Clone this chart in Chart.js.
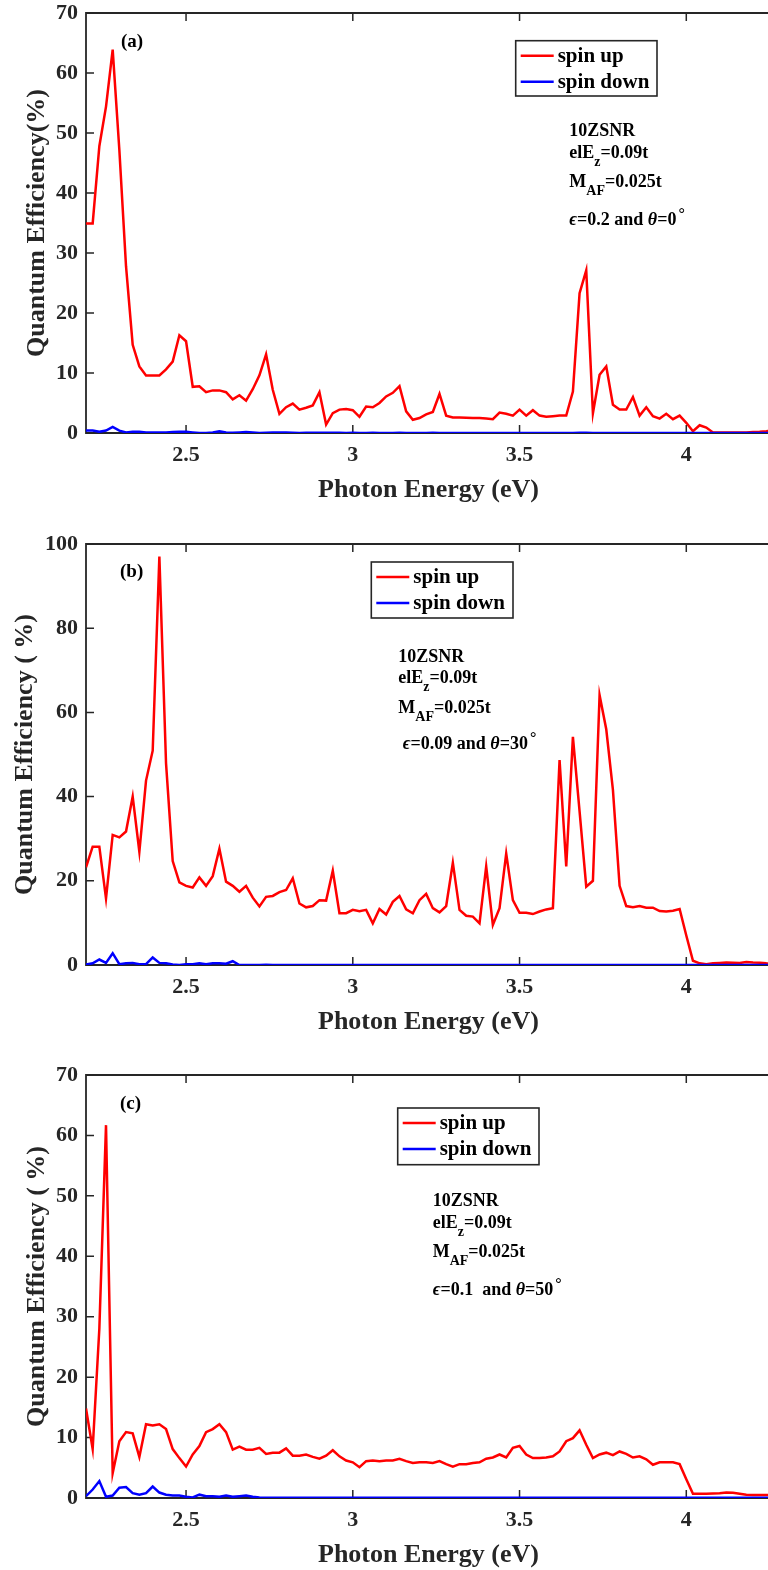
<!DOCTYPE html>
<html>
<head>
<meta charset="utf-8">
<script src="https://cdn.jsdelivr.net/npm/chart.js@4/dist/chart.umd.min.js"></script>
<style>
  html, body { margin: 0; padding: 0; background: #fff; overflow: hidden; }
  canvas { position: absolute; left: 0; }
</style>
</head>
<body>
<canvas id="panelA" width="771" height="525" style="top:0px"></canvas>
<canvas id="panelB" width="771" height="525" style="top:525px"></canvas>
<canvas id="panelC" width="771" height="530" style="top:1050px"></canvas>
<script>
// photon energy grid (eV)
const energy = [
  2.20, 2.22, 2.24, 2.26, 2.28, 2.30, 2.32, 2.34, 2.36, 2.38,
  2.40, 2.42, 2.44, 2.46, 2.48, 2.50, 2.52, 2.54, 2.56, 2.58,
  2.60, 2.62, 2.64, 2.66, 2.68, 2.70, 2.72, 2.74, 2.76, 2.78,
  2.80, 2.82, 2.84, 2.86, 2.88, 2.90, 2.92, 2.94, 2.96, 2.98,
  3.00, 3.02, 3.04, 3.06, 3.08, 3.10, 3.12, 3.14, 3.16, 3.18,
  3.20, 3.22, 3.24, 3.26, 3.28, 3.30, 3.32, 3.34, 3.36, 3.38,
  3.40, 3.42, 3.44, 3.46, 3.48, 3.50, 3.52, 3.54, 3.56, 3.58,
  3.60, 3.62, 3.64, 3.66, 3.68, 3.70, 3.72, 3.74, 3.76, 3.78,
  3.80, 3.82, 3.84, 3.86, 3.88, 3.90, 3.92, 3.94, 3.96, 3.98,
  4.00, 4.02, 4.04, 4.06, 4.08, 4.10, 4.12, 4.14, 4.16, 4.18,
  4.20, 4.22, 4.24, 4.26
];

// (a) eps=0.2, theta=0
const upA = [
  34.9, 34.9, 47.8, 54.4, 63.9, 47.2, 27.8, 14.7, 11.1, 9.6,
  9.6, 9.6, 10.6, 11.9, 16.3, 15.3, 7.7, 7.8, 6.8, 7.1,
  7.1, 6.8, 5.6, 6.3, 5.4, 7.3, 9.6, 13.1, 7.2, 3.2,
  4.3, 4.9, 3.9, 4.2, 4.6, 6.8, 1.4, 3.3, 3.9, 4.0,
  3.8, 2.7, 4.4, 4.3, 5.0, 6.1, 6.7, 7.8, 3.6, 2.2,
  2.5, 3.1, 3.5, 6.5, 2.9, 2.6, 2.6, 2.55, 2.5, 2.5,
  2.4, 2.3, 3.4, 3.2, 2.9, 3.9, 2.9, 3.8, 2.9, 2.7,
  2.8, 2.9, 2.9, 6.9, 23.3, 27.1, 3.3, 9.7, 11.1, 4.7,
  3.9, 3.9, 6.0, 2.9, 4.3, 2.8, 2.4, 3.2, 2.3, 2.9,
  1.7, 0.3, 1.3, 0.9, 0.1, 0.1, 0.1, 0.1, 0.1, 0.1,
  0.15, 0.2, 0.3, 0.45
];
const downA = [
  0.4, 0.4, 0.2, 0.4, 1.0, 0.4, 0.1, 0.2, 0.2, 0.1,
  0.1, 0.1, 0.1, 0.15, 0.2, 0.2, 0.1, 0.0, 0.0, 0.1,
  0.3, 0.1, 0.05, 0.1, 0.15, 0.1, 0.0, 0.05, 0.1, 0.1,
  0.1, 0.05, 0.0, 0.05, 0.05, 0.03, 0.03, 0.05, 0.03, 0.02,
  0.03, 0.02, 0.02, 0.03, 0.02, 0.02, 0.02, 0.03, 0.02, 0.02,
  0.02, 0.02, 0.03, 0.02, 0.02, 0.02, 0.02, 0.02, 0.02, 0.02,
  0.02, 0.02, 0.02, 0.02, 0.02, 0.02, 0.02, 0.02, 0.02, 0.02,
  0.02, 0.02, 0.02, 0.02, 0.03, 0.03, 0.02, 0.02, 0.02, 0.02,
  0.02, 0.02, 0.02, 0.02, 0.02, 0.02, 0.02, 0.02, 0.02, 0.02,
  0.02, 0.02, 0.02, 0.02, 0.02, 0.02, 0.02, 0.02, 0.02, 0.02,
  0.02, 0.02, 0.02, 0.02
];

// (b) eps=0.09, theta=30
const upB = [
  23.2, 28.1, 28.1, 15.8, 30.9, 30.3, 31.7, 40.0, 26.9, 43.8,
  50.9, 97.0, 47.9, 24.7, 19.6, 18.8, 18.4, 20.8, 18.8, 21.1,
  27.6, 19.8, 18.8, 17.4, 18.8, 16.0, 13.9, 16.2, 16.4, 17.3,
  17.8, 20.6, 14.6, 13.7, 14.0, 15.4, 15.3, 22.4, 12.3, 12.3,
  13.1, 12.8, 13.1, 9.9, 13.3, 12.0, 15.0, 16.4, 13.2, 12.3,
  15.4, 16.9, 13.5, 12.5, 14.0, 24.3, 13.1, 11.7, 11.5, 9.9,
  23.4, 9.5, 13.5, 26.5, 15.4, 12.4, 12.4, 12.1, 12.7, 13.2,
  13.5, 48.7, 23.4, 54.2, 36.5, 18.6, 20.0, 64.1, 56.0, 41.6,
  18.8, 14.0, 13.7, 14.0, 13.6, 13.6, 12.8, 12.7, 12.9, 13.3,
  7.0, 1.0, 0.4, 0.2, 0.4, 0.5, 0.6, 0.55, 0.5, 0.7,
  0.6, 0.55, 0.4, 0.35
];
const downB = [
  0.1, 0.4, 1.3, 0.5, 2.8, 0.2, 0.4, 0.5, 0.2, 0.2,
  1.8, 0.5, 0.4, 0.1, 0.0, 0.15, 0.2, 0.4, 0.2, 0.4,
  0.4, 0.3, 0.9, 0.0, 0.0, 0.02, 0.02, 0.03, 0.02, 0.02,
  0.02, 0.02, 0.02, 0.02, 0.02, 0.02, 0.02, 0.02, 0.02, 0.02,
  0.02, 0.02, 0.02, 0.02, 0.02, 0.02, 0.02, 0.02, 0.02, 0.02,
  0.02, 0.02, 0.02, 0.02, 0.02, 0.02, 0.02, 0.02, 0.02, 0.02,
  0.02, 0.02, 0.02, 0.02, 0.02, 0.02, 0.02, 0.02, 0.02, 0.02,
  0.02, 0.02, 0.02, 0.02, 0.02, 0.02, 0.02, 0.02, 0.02, 0.02,
  0.02, 0.02, 0.02, 0.02, 0.02, 0.02, 0.02, 0.02, 0.02, 0.02,
  0.02, 0.02, 0.02, 0.02, 0.02, 0.02, 0.02, 0.02, 0.02, 0.02,
  0.02, 0.02, 0.02, 0.02
];

// (c) eps=0.1, theta=50
const upC = [
  14.8, 8.1, 28.0, 61.7, 4.1, 9.4, 10.9, 10.7, 6.8, 12.2,
  12.0, 12.2, 11.4, 8.1, 6.6, 5.2, 7.2, 8.6, 10.9, 11.4,
  12.2, 10.9, 8.0, 8.5, 8.0, 8.0, 8.3, 7.3, 7.5, 7.5,
  8.2, 7.0, 7.0, 7.2, 6.8, 6.5, 7.0, 7.9, 6.9, 6.2,
  5.9, 5.1, 6.1, 6.2, 6.1, 6.2, 6.2, 6.5, 6.1, 5.8,
  5.9, 5.9, 5.8, 6.1, 5.6, 5.2, 5.6, 5.6, 5.8, 5.9,
  6.5, 6.7, 7.2, 6.7, 8.3, 8.6, 7.2, 6.6, 6.6, 6.7,
  6.9, 7.7, 9.4, 9.9, 11.2, 8.8, 6.6, 7.2, 7.5, 7.1,
  7.7, 7.3, 6.7, 6.9, 6.4, 5.5, 5.9, 5.9, 5.9, 5.6,
  3.1, 0.7, 0.7, 0.7, 0.75, 0.8, 0.9, 0.85, 0.7, 0.55,
  0.5, 0.5, 0.5, 0.5
];
const downC = [
  0.3, 1.4, 2.8, 0.2, 0.4, 1.7, 1.8, 0.8, 0.55, 0.8,
  1.9, 0.9, 0.55, 0.4, 0.4, 0.2, 0.1, 0.55, 0.3, 0.3,
  0.2, 0.4, 0.2, 0.3, 0.4, 0.2, 0.1, 0.05, 0.05, 0.05,
  0.03, 0.03, 0.03, 0.03, 0.03, 0.03, 0.03, 0.03, 0.03, 0.03,
  0.03, 0.03, 0.03, 0.03, 0.03, 0.03, 0.03, 0.03, 0.03, 0.03,
  0.03, 0.03, 0.03, 0.03, 0.03, 0.03, 0.03, 0.03, 0.03, 0.03,
  0.03, 0.03, 0.03, 0.03, 0.03, 0.03, 0.03, 0.03, 0.03, 0.03,
  0.03, 0.03, 0.03, 0.03, 0.03, 0.03, 0.03, 0.03, 0.03, 0.03,
  0.03, 0.03, 0.03, 0.03, 0.03, 0.03, 0.03, 0.03, 0.03, 0.03,
  0.03, 0.03, 0.03, 0.03, 0.03, 0.03, 0.03, 0.03, 0.03, 0.03,
  0.03, 0.03, 0.03, 0.03
];

// tick labels
const xTicks = [2.5, 3, 3.5, 4];
const yTicks70 = [0, 10, 20, 30, 40, 50, 60, 70];
const yTicks100 = [0, 20, 40, 60, 80, 100];

const FONT = '"Liberation Serif", "Times New Roman", serif';
const AXIS = '#262626';
const RED = '#ff0000';
const BLUE = '#0000ff';

// draws mixed text runs: plain, sub(script), sup(erscript), it(alic)
function drawRich(ctx, x, y, segs) {
  let cx = x;
  segs.forEach(([txt, kind]) => {
    let size = 18, dy = 0, style = 'bold';
    if (kind === 'sub') { size = 14; dy = 8; }
    if (kind === 'sup') { size = 16; dy = -6; cx += 2; }
    if (kind === 'it') style = 'italic bold';
    ctx.font = style + ' ' + size + 'px ' + FONT;
    ctx.fillText(txt, cx, y + dy);
    cx += ctx.measureText(txt).width;
  });
}

const panelDecor = {
  id: 'panelDecor',
  // axes box + inward ticks, under the curves
  beforeDatasetsDraw(chart) {
    const { ctx, chartArea: a, scales: { x, y } } = chart;
    ctx.save();
    ctx.strokeStyle = AXIS;
    ctx.lineWidth = 1.8;
    ctx.beginPath();
    ctx.moveTo(a.right + 5, a.top);
    ctx.lineTo(a.left, a.top);
    ctx.lineTo(a.left, a.bottom);
    ctx.lineTo(a.right + 5, a.bottom);
    ctx.stroke();
    ctx.lineWidth = 1.5;
    ctx.beginPath();
    x.ticks.forEach(t => {
      const px = x.getPixelForValue(t.value);
      ctx.moveTo(px, a.bottom); ctx.lineTo(px, a.bottom - 8);
      ctx.moveTo(px, a.top); ctx.lineTo(px, a.top + 8);
    });
    y.ticks.forEach(t => {
      const py = y.getPixelForValue(t.value);
      ctx.moveTo(a.left, py); ctx.lineTo(a.left + 8, py);
    });
    ctx.stroke();
    ctx.restore();
  },
  afterDraw(chart, args, opts) {
    const ctx = chart.ctx;
    ctx.save();
    // legend box
    const L = opts.legend;
    ctx.fillStyle = '#fff';
    ctx.fillRect(L.x, L.y, L.w, L.h);
    ctx.strokeStyle = AXIS;
    ctx.lineWidth = 1.6;
    ctx.strokeRect(L.x, L.y, L.w, L.h);
    chart.data.datasets.forEach((ds, i) => {
      const ry = L.y + 15 + i * 26;
      ctx.strokeStyle = ds.borderColor;
      ctx.lineWidth = 2.5;
      ctx.beginPath();
      ctx.moveTo(L.x + 5, ry);
      ctx.lineTo(L.x + 38, ry);
      ctx.stroke();
      ctx.fillStyle = '#000';
      ctx.font = 'bold 21px ' + FONT;
      ctx.textBaseline = 'middle';
      ctx.textAlign = 'left';
      ctx.fillText(ds.label, L.x + 42, ry + 1);
    });
    // parameter notes
    ctx.fillStyle = '#000';
    ctx.textBaseline = 'alphabetic';
    opts.notes.lines.forEach((segs, i) => {
      drawRich(ctx, opts.notes.x, opts.notes.base[i], segs);
    });
    // panel tag
    ctx.font = 'bold 19px ' + FONT;
    ctx.textBaseline = 'middle';
    ctx.fillText(opts.tag.text, opts.tag.x, opts.tag.y);
    ctx.restore();
  }
};

function makePanel(id, p) {
  const xTickFont = { family: FONT, size: 22, weight: 'bold', lineHeight: 1.1 };
  // small lineHeight keeps the top label from padding the plot area
  const yTickFont = { family: FONT, size: 22, weight: 'bold', lineHeight: 0.4 };
  const titleFont = { family: FONT, size: 26, weight: 'bold' };
  return new Chart(document.getElementById(id), {
    type: 'line',
    data: {
      datasets: [
        { label: 'spin up', data: energy.map((e, i) => ({ x: e, y: p.up[i] })), borderColor: RED, order: 1 },
        { label: 'spin down', data: energy.map((e, i) => ({ x: e, y: p.down[i] })), borderColor: BLUE, order: 0 }
      ]
    },
    plugins: [panelDecor],
    options: {
      responsive: false,
      animation: false,
      devicePixelRatio: 1,
      layout: { padding: { top: p.padTop, bottom: p.padBottom, left: 0, right: 0 } },
      elements: {
        point: { radius: 0 },
        line: { borderWidth: 2.5, tension: 0 }
      },
      plugins: {
        legend: { display: false },
        tooltip: { enabled: false },
        panelDecor: { legend: p.legend, notes: p.notes, tag: p.tag }
      },
      scales: {
        x: {
          type: 'linear',
          min: 2.2,
          max: 4.254,
          grid: { display: false, drawTicks: false },
          border: { display: false },
          afterBuildTicks: s => { s.ticks = xTicks.map(v => ({ value: v })); },
          afterFit: s => { s.height = 80; },
          ticks: { font: xTickFont, color: AXIS, padding: 10, maxRotation: 0, autoSkip: false, callback: v => String(v) },
          title: { display: true, text: 'Photon Energy (eV)', font: titleFont, color: AXIS, padding: { top: 0, bottom: 7 } }
        },
        y: {
          min: 0,
          max: p.yMax,
          grid: { display: false, drawTicks: false },
          border: { display: false },
          afterBuildTicks: s => { s.ticks = p.yTicks.map(v => ({ value: v })); },
          afterFit: s => { s.width = 86; },
          ticks: { font: yTickFont, color: AXIS, padding: 8, callback: v => String(v) },
          title: { display: true, text: p.yTitle, font: titleFont, color: AXIS, padding: { top: p.yTitlePad, bottom: 0 } }
        }
      }
    }
  });
}

makePanel('panelA', {
  up: upA, down: downA, yMax: 70, yTicks: yTicks70,
  yTitle: 'Quantum Efficiency(%)', yTitlePad: 22,
  padTop: 13, padBottom: 12,
  legend: { x: 515.7, y: 40.7, w: 141.3, h: 55.3 },
  tag: { text: '(a)', x: 121, y: 42 },
  notes: {
    x: 569.3,
    base: [136, 158, 187.3, 225],
    lines: [
      [['10ZSNR']],
      [['elE'], ['z', 'sub'], ['=0.09t']],
      [['M'], ['AF', 'sub'], ['=0.025t']],
      [['\u03f5', 'it'], ['=0.2 and '], ['\u03b8', 'it'], ['=0'], ['\u00b0', 'sup']]
    ]
  }
});

makePanel('panelB', {
  up: upB, down: downB, yMax: 100, yTicks: yTicks100,
  yTitle: 'Quantum Efficiency ( %)', yTitlePad: 9.5,
  padTop: 19, padBottom: 5,
  legend: { x: 371.3, y: 37, w: 141.7, h: 56 },
  tag: { text: '(b)', x: 120, y: 47.5 },
  notes: {
    x: 398.3,
    base: [137.3, 157.7, 187.7, 224.3],
    lines: [
      [['10ZSNR']],
      [['elE'], ['z', 'sub'], ['=0.09t']],
      [['M'], ['AF', 'sub'], ['=0.025t']],
      [[' '], ['\u03f5', 'it'], ['=0.09 and '], ['\u03b8', 'it'], ['=30'], ['\u00b0', 'sup']]
    ]
  }
});

makePanel('panelC', {
  up: upC, down: downC, yMax: 70, yTicks: yTicks70,
  yTitle: 'Quantum Efficiency ( %)', yTitlePad: 22,
  padTop: 25, padBottom: 2,
  legend: { x: 397.7, y: 58, w: 141.3, h: 56.7 },
  tag: { text: '(c)', x: 120, y: 54.5 },
  notes: {
    x: 432.7,
    base: [156, 177.7, 207.3, 245],
    lines: [
      [['10ZSNR']],
      [['elE'], ['z', 'sub'], ['=0.09t']],
      [['M'], ['AF', 'sub'], ['=0.025t']],
      [['\u03f5', 'it'], ['=0.1  and '], ['\u03b8', 'it'], ['=50'], ['\u00b0', 'sup']]
    ]
  }
});
</script>
</body>
</html>
